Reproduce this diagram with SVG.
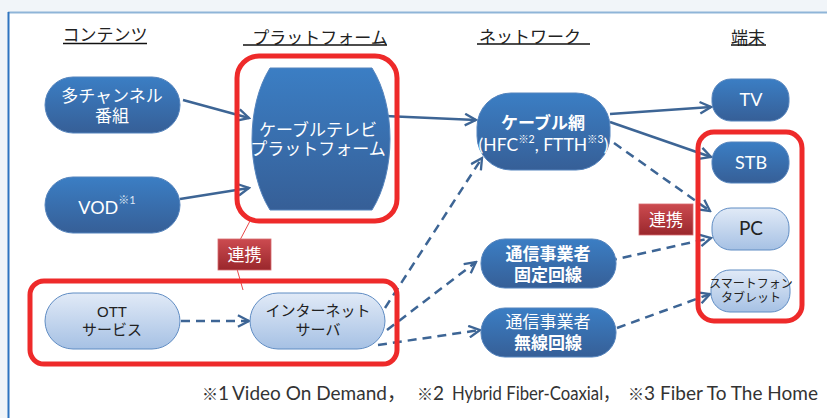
<svg xmlns="http://www.w3.org/2000/svg" width="827" height="418" viewBox="0 0 827 418">
<defs>
<linearGradient id="gDark" x1="0" y1="0" x2="0" y2="1"><stop offset="0" stop-color="#3b7ec4"/><stop offset="1" stop-color="#365f97"/></linearGradient>
<linearGradient id="gLight" x1="0" y1="0" x2="0" y2="1"><stop offset="0" stop-color="#e1eaf7"/><stop offset="1" stop-color="#a6c1e4"/></linearGradient>
<linearGradient id="gRed" x1="0" y1="0" x2="0" y2="1"><stop offset="0" stop-color="#cc4b50"/><stop offset="1" stop-color="#9a272c"/></linearGradient>
<marker id="arr" markerUnits="userSpaceOnUse" markerWidth="14" markerHeight="14" viewBox="0 0 12 12" refX="10.5" refY="6" orient="auto">
<path d="M1,1 L10.5,6 L1,11" fill="none" stroke="#3d6595" stroke-width="2"/>
</marker>
<style>
.t{font-family:"Liberation Sans","Noto Sans CJK JP",sans-serif;text-anchor:middle}
.l{font-family:Lato,"Noto Sans CJK JP",sans-serif;text-anchor:middle}
.fn{font-family:Lato,"Noto Sans CJK JP",sans-serif;font-size:19px;fill:#333333}
.fs{font-family:"Noto Sans CJK JP",sans-serif;font-size:16px}
.w{fill:#ffffff}
.d{fill:#222222}
.hd{font-size:17px;fill:#222}
.dark{fill:url(#gDark);stroke:#5584bd;stroke-width:1}
.light{fill:url(#gLight);stroke:#5f8cc3;stroke-width:1}
.red{fill:none;stroke:#ee2a2a;stroke-width:5}
.c{fill:none;stroke:#3d6595;stroke-width:2.5;marker-end:url(#arr)}
.dash{stroke-dasharray:9 6}
.lbl{fill:url(#gRed);stroke:#d86a6e;stroke-width:0.8}
</style>
</defs>
<rect x="0" y="0" width="827" height="418" fill="#ffffff"/>
<rect x="0" y="0" width="827" height="12" fill="#f1f5f9"/>
<rect x="0" y="0" width="8" height="418" fill="#f1f5f9"/>
<line x1="8" y1="12.5" x2="827" y2="12.5" stroke="#8fb5d8" stroke-width="2"/>
<line x1="8.5" y1="12" x2="8.5" y2="418" stroke="#2f74c0" stroke-width="2"/>

<g id="headers">
<text class="t hd" x="105" y="41">コンテンツ</text>
<line x1="63" y1="43.5" x2="147" y2="43.5" stroke="#111" stroke-width="1.3"/>
<text class="t hd" x="320" y="44">プラットフォーム</text>
<line x1="243" y1="45" x2="387" y2="45" stroke="#111" stroke-width="1.3"/>
<text class="t hd" x="530" y="43">ネットワーク</text>
<line x1="477" y1="44" x2="590" y2="44" stroke="#111" stroke-width="1.3"/>
<text class="t hd" x="748" y="44">端末</text>
<line x1="731" y1="45" x2="766" y2="45" stroke="#111" stroke-width="1.3"/>
</g>

<g id="connectors">
<line class="c" x1="183" y1="100" x2="249" y2="118"/>
<line class="c" x1="180" y1="199" x2="249" y2="188"/>
<line class="c" x1="385" y1="116" x2="476" y2="120"/>
<line class="c" x1="610" y1="114" x2="711" y2="107"/>
<line class="c" x1="610" y1="122" x2="711" y2="157"/>
<line class="c dash" x1="614" y1="143" x2="710" y2="211"/>
<line class="c dash" x1="385" y1="308" x2="482" y2="158"/>
<line class="c dash" x1="387" y1="330" x2="476" y2="262"/>
<line class="c dash" x1="378" y1="345" x2="480" y2="330"/>
<line class="c dash" x1="181" y1="321" x2="249" y2="321"/>
<line class="c dash" x1="608" y1="261" x2="711" y2="238"/>
<line class="c dash" x1="617" y1="328" x2="710" y2="294"/>
</g>

<g id="link1">
<line x1="250" y1="221" x2="240" y2="240" stroke="#e84848" stroke-width="1"/>
<line x1="237" y1="269" x2="243" y2="290" stroke="#e84848" stroke-width="1"/>
<rect class="lbl" x="218" y="239" width="53" height="31"/>
<text class="t w" x="244.5" y="261" font-size="17">連携</text>
</g>

<g id="n-multi">
<rect class="dark" x="45" y="77" width="135" height="56" rx="28"/>
<text class="t w" x="112" y="102" font-size="17">多チャンネル</text>
<text class="t w" x="112" y="122" font-size="17">番組</text>
</g>

<g id="n-vod">
<rect class="dark" x="45" y="177" width="135" height="56" rx="28"/>
<text class="l w" x="107" y="214" font-size="18">VOD<tspan font-size="11" dy="-10" fill="#dfe8f4">※1</tspan></text>
</g>

<g id="n-platform">
<path class="dark" d="M270,68 H372 C396,106 396,172 372,210 H270 C246,172 246,106 270,68 Z"/>
<text class="t w" x="318" y="136" font-size="17">ケーブルテレビ</text>
<text class="t w" x="318" y="155" font-size="17">プラットフォーム</text>
</g>
<rect id="red-platform" class="red" x="237" y="56" width="160" height="165" rx="22"/>

<g id="n-cable">
<rect class="dark" x="477" y="93" width="133" height="77" rx="34"/>
<text class="t w" x="543" y="129" font-size="17" font-weight="bold">ケーブル網</text>
<text class="l w" x="543.5" y="151" font-size="17.5">(HFC<tspan font-size="10.5" dy="-8">※2</tspan><tspan dy="8">, FTTH</tspan><tspan font-size="10.5" dy="-8">※3</tspan><tspan dy="8">)</tspan></text>
</g>

<g id="n-tv">
<rect class="dark" x="712" y="79" width="77" height="42" rx="19"/>
<text class="l w" x="751" y="106" font-size="18">TV</text>
</g>
<g id="n-stb">
<rect class="dark" x="712" y="142" width="77" height="41" rx="19"/>
<text class="l w" x="751" y="169" font-size="18">STB</text>
</g>
<g id="n-pc">
<rect class="light" x="712" y="208" width="77" height="42" rx="19"/>
<text class="l d" x="751" y="235" font-size="19">PC</text>
</g>
<g id="n-smart">
<rect class="light" x="711" y="270" width="79" height="42" rx="19"/>
<text class="t d" x="751" y="288" font-size="12">スマートフォン</text>
<text class="t d" x="751" y="302" font-size="12">タブレット</text>
</g>
<rect id="red-terminal" class="red" x="698" y="132" width="104" height="189" rx="16"/>

<g id="link2">
<rect class="lbl" x="639" y="204" width="54" height="31"/>
<text class="t w" x="666" y="226" font-size="17">連携</text>
</g>

<g id="n-fixed">
<rect class="dark" x="481" y="239" width="135" height="49" rx="24"/>
<text class="t w" x="548" y="260" font-size="17" font-weight="bold">通信事業者</text>
<text class="t w" x="548" y="281" font-size="17" font-weight="bold">固定回線</text>
</g>
<g id="n-wireless">
<rect class="dark" x="481" y="308" width="135" height="49" rx="24"/>
<text class="t w" x="548" y="328" font-size="17">通信事業者</text>
<text class="t w" x="548" y="349" font-size="17" font-weight="bold">無線回線</text>
</g>

<g id="n-ott">
<rect class="light" x="45" y="293" width="135" height="56" rx="28"/>
<text class="t d" x="112" y="317" font-size="15">OTT</text>
<text class="t d" x="112" y="335" font-size="15">サービス</text>
</g>
<g id="n-server">
<rect class="light" x="250" y="293" width="135" height="56" rx="28"/>
<text class="t d" x="318" y="316" font-size="15">インターネット</text>
<text class="t d" x="318" y="335" font-size="15">サーバ</text>
</g>
<rect id="red-ott" class="red" x="30" y="281" width="367" height="83" rx="14"/>

<g id="footnote">
<text class="fn" x="202" y="400"><tspan class="fs">※</tspan>1</text>
<text class="fn" x="232" y="400">Video On Demand，</text>
<text class="fn" x="417" y="400"><tspan class="fs">※</tspan>2</text>
<text class="fn" transform="translate(452,400) scale(0.88,1)" x="0" y="0">Hybrid Fiber-Coaxial，</text>
<text class="fn" x="628" y="400"><tspan class="fs">※</tspan>3</text>
<text class="fn" x="660" y="400">Fiber To The Home</text>
</g>
</svg>
